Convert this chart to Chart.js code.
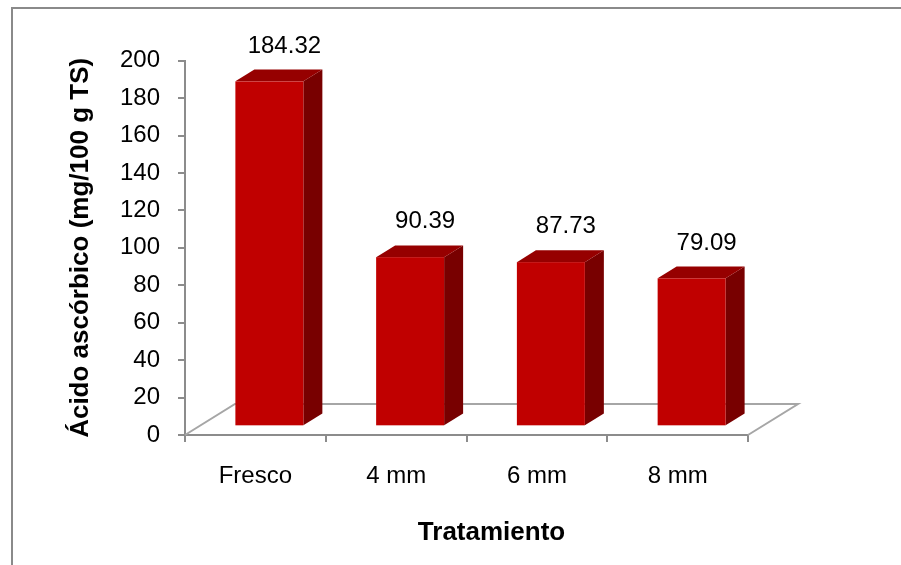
<!DOCTYPE html>
<html>
<head>
<meta charset="utf-8">
<script src="https://cdn.jsdelivr.net/npm/chart.js@4.4.1/dist/chart.umd.min.js"></script>
<style>
  html, body { margin: 0; padding: 0; background: #fff; }
  canvas { display: block; }
</style>
</head>
<body>
<canvas id="chart" width="901" height="565"></canvas>
<script>
// Ascorbic acid content per treatment
const categories = ['Fresco', '4 mm', '6 mm', '8 mm'];
const acidoAscorbico = [184.32, 90.39, 87.73, 79.09];
const yMin = 0;
const yMax = 200;
const yStep = 20;
const yTitle = 'Ácido ascórbico (mg/100 g TS)';
const xTitle = 'Tratamiento';

const FONT = "'Liberation Sans', Arial, Helvetica, sans-serif";
const AXIS_GRAY = '#8c8c8c';
const FRONT = '#c00000';
const TOP = '#960000';
const SIDE = '#780000';

// Perspective of the 3D floor and the bar blocks
const DEPTH = { dx: 50, dy: -31 };
const BAR_POS = 0.28;    // bars sit this far into the floor depth
const BAR_DEPTH = 0.38;  // thickness of each bar block

const bars3d = {
  id: 'bars3d',
  beforeDraw(chart) {
    const ctx = chart.ctx;
    ctx.save();
    ctx.fillStyle = '#fff';
    ctx.fillRect(0, 0, chart.width, chart.height);
    ctx.strokeStyle = '#8a8a8a';
    ctx.lineWidth = 2;
    ctx.strokeRect(12, 8, chart.width + 40, chart.height + 40);
    ctx.restore();
  },
  beforeDatasetDraw() {
    return false; // blocks are painted below with depth
  },
  afterDatasetsDraw(chart) {
    const ctx = chart.ctx;
    const xs = chart.scales.x, ys = chart.scales.y;
    const y0 = ys.getPixelForValue(0);
    ctx.save();

    // floor
    ctx.strokeStyle = '#a6a6a6';
    ctx.lineWidth = 2;
    ctx.beginPath();
    ctx.moveTo(xs.left, y0);
    ctx.lineTo(xs.left + DEPTH.dx, y0 + DEPTH.dy);
    ctx.lineTo(xs.right + DEPTH.dx, y0 + DEPTH.dy);
    ctx.lineTo(xs.right, y0);
    ctx.stroke();

    const meta = chart.getDatasetMeta(0);
    const ox = DEPTH.dx * BAR_POS, oy = DEPTH.dy * BAR_POS;
    const bx = DEPTH.dx * BAR_DEPTH, by = DEPTH.dy * BAR_DEPTH;
    meta.data.forEach((el, i) => {
      const p = el.getProps(['x', 'y', 'base', 'width'], true);
      const x0 = p.x - p.width / 2 + ox, x1 = p.x + p.width / 2 + ox;
      const yT = p.y + oy, yB = p.base + oy;

      // right side
      ctx.fillStyle = SIDE;
      ctx.beginPath();
      ctx.moveTo(x1, yB);
      ctx.lineTo(x1 + bx, yB + by);
      ctx.lineTo(x1 + bx, yT + by);
      ctx.lineTo(x1, yT);
      ctx.closePath();
      ctx.fill();

      // top
      ctx.fillStyle = TOP;
      ctx.beginPath();
      ctx.moveTo(x0, yT);
      ctx.lineTo(x0 + bx, yT + by);
      ctx.lineTo(x1 + bx, yT + by);
      ctx.lineTo(x1, yT);
      ctx.closePath();
      ctx.fill();

      // front
      ctx.fillStyle = FRONT;
      ctx.fillRect(x0, yT, x1 - x0, yB - yT);

      // value label
      ctx.fillStyle = '#000';
      ctx.font = '24px ' + FONT;
      ctx.textAlign = 'center';
      ctx.textBaseline = 'alphabetic';
      ctx.fillText(acidoAscorbico[i].toFixed(2), p.x + ox + 15, yT + by - 17);
    });

    // category axis title, centred on the floor
    ctx.fillStyle = '#000';
    ctx.font = 'bold 26px ' + FONT;
    ctx.textAlign = 'center';
    ctx.textBaseline = 'alphabetic';
    ctx.fillText(xTitle, (xs.left + xs.right + DEPTH.dx) / 2, y0 + 105);
    ctx.restore();
  }
};

new Chart(document.getElementById('chart'), {
  type: 'bar',
  data: {
    labels: categories,
    datasets: [{
      data: acidoAscorbico,
      backgroundColor: FRONT,
      borderWidth: 0,
      categoryPercentage: 1,
      barPercentage: 0.483
    }]
  },
  options: {
    responsive: false,
    animation: false,
    devicePixelRatio: 1,
    layout: { padding: { left: 0, right: 153, top: 60.7, bottom: 0 } },
    plugins: { legend: { display: false }, tooltip: { enabled: false } },
    scales: {
      x: {
        grid: { offset: true, drawOnChartArea: false, drawTicks: true, tickLength: 7, color: AXIS_GRAY, lineWidth: 2 },
        border: { display: true, color: AXIS_GRAY, width: 2 },
        ticks: { color: '#000', font: { family: FONT, size: 24 }, padding: 20, maxRotation: 0 },
        afterFit(scale) { scale.height = 130; }
      },
      y: {
        min: yMin,
        max: yMax,
        grid: { drawOnChartArea: false, drawTicks: true, tickLength: 7, color: AXIS_GRAY, lineWidth: 2 },
        border: { display: true, color: AXIS_GRAY, width: 2 },
        ticks: { stepSize: yStep, color: '#000', font: { family: FONT, size: 24 }, padding: 18 },
        title: {
          display: true,
          text: yTitle,
          color: '#000',
          font: { family: FONT, size: 26, weight: 'bold' },
          padding: { top: 65, bottom: 0 }
        },
        afterFit(scale) { scale.width = 185; }
      }
    }
  },
  plugins: [bars3d]
});
</script>
</body>
</html>
